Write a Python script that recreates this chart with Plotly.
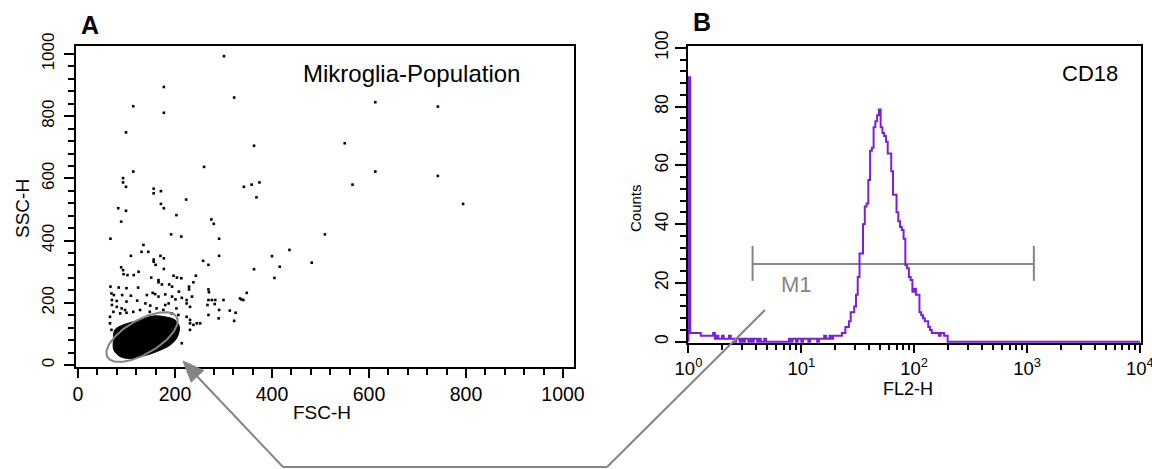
import numpy as np
import plotly.graph_objects as go

W, H = 1152, 469

# ---------------- Panel A: FSC-H / SSC-H dot plot ----------------
fsc = [301, 177, 322, 114, 177, 99, 363, 260, 114, 93, 93, 99, 156, 156, 171, 223, 342, 358, 374, 368,
       83, 99, 171, 177, 203, 89, 275, 280, 192, 213, 291, 67,
       613, 742, 550, 613, 742, 566, 794, 509, 436, 482, 416, 400, 363, 405, 348, 337,
       135, 131, 145, 109, 170, 156, 156, 177, 291, 258, 269, 160, 89, 93, 94, 102, 115, 125, 177, 151,
       166, 166, 197, 204, 213, 243, 238, 173, 188, 194, 67, 84, 100, 124, 229, 229, 269, 270, 208, 154,
       159, 180, 69, 74, 91, 109, 142, 166, 194, 201, 214, 224, 224, 235, 269, 276, 283, 300, 334, 341,
       70, 80, 100, 122, 139, 149, 180, 187, 203, 231, 267, 282, 313, 325, 291, 269, 290, 322, 70, 80,
       90, 97, 73, 87, 100, 114, 128, 148, 162, 176, 193, 207, 224, 231, 231, 238, 245, 252, 214, 231,
       66, 66, 69]
ssc = [993, 894, 860, 832, 811, 748, 705, 637, 622, 601, 587, 573, 567, 552, 559, 532, 573, 580, 587, 539,
       504, 496, 518, 504, 482, 461, 468, 454, 420, 413, 406, 406,
       845, 831, 713, 622, 608, 580, 518, 420, 370, 329, 316, 350, 308, 280, 232, 211,
       386, 364, 364, 351, 351, 339, 332, 343, 351, 335, 322, 322, 314, 305, 292, 289, 289, 300, 309, 281,
       273, 266, 287, 281, 279, 287, 266, 259, 259, 252, 252, 249, 247, 249, 252, 243, 243, 234, 236, 232,
       228, 227, 230, 225, 225, 223, 225, 220, 220, 211, 216, 209, 198, 220, 209, 209, 209, 209, 214, 209,
       209, 206, 204, 207, 198, 191, 193, 198, 182, 187, 193, 196, 175, 168, 177, 161, 150, 142, 193, 187,
       182, 177, 171, 166, 168, 171, 177, 171, 182, 177, 166, 161, 155, 145, 134, 129, 134, 134, 70, 113,
       155, 134, 113]

# dense (saturated) core of the population, outline
core_fsc = [73, 76, 93, 114, 135, 159, 179, 200, 209, 205, 190, 162, 135, 107, 87, 74]
core_ssc = [80, 113, 129, 139, 150, 158, 155, 145, 123, 91, 64, 43, 29, 21, 27, 48]

# elliptic gate: centre (FSC, SSC), semi-axes in screen pixels, tilt in degrees
gate_center = [132, 90]
gate_axes_px = [40, 17]
gate_tilt = 30

# ---------------- Panel B: FL2-H histogram (CD18) ----------------
counts = ([90] +
          [3, 3, 3, 3, 3, 3, 2, 2, 2, 2] +
          [2, 2, 2, 3] +
          [1, 2, 1, 1, 2, 1, 1, 1, 2, 1] +
          [1, 0, 1, 1, 0, 1, 0, 1, 1, 0, 1, 0, 1, 1, 0, 1, 0, 0, 1, 0] +
          [0, 0, 0, 0, 0, 0, 0, 0, 0, 0, 0, 0] +
          [1, 0, 1, 1, 0, 1, 1, 0, 1, 1, 1, 0, 1, 1, 1, 1, 0, 1] +
          [1, 1, 2, 1, 1, 2, 1, 2, 2, 2, 2, 2] +
          [3, 3, 5, 5, 7, 10, 10, 12, 16, 22, 30, 30, 40, 46, 47, 55, 65, 66, 73, 75, 77, 79] +
          [73, 71, 70, 68, 64, 64, 58, 50, 50, 44, 41, 39, 38, 35, 26, 25, 22, 21, 17, 18, 16, 16] +
          [10, 9, 8, 7, 7, 5, 4, 3, 3, 3, 3, 2, 3, 3, 2, 2])
counts = counts + [0] * (256 - len(counts))
channels_per_decade = 64

m1_range = [3.7, 1150]
m1_level = 26.4
m1_caps = [20.7, 32.6]

# x tick labels for log axis
decades = [1, 10, 100, 1000, 10000]
decade_text = ["10<sup>0</sup>", "10<sup>1</sup>", "10<sup>2</sup>", "10<sup>3</sup>", "10<sup>4</sup>"]

FONT = "Liberation Sans, Arial, sans-serif"
GREY = "#858585"
PURPLE = "#7a1fdc"


def pxx(x):
    return x / W


def pyy(y):
    return 1 - y / H


fig = go.Figure()

# ----- Panel A traces -----
xa_range = [-4.1, 1022.7]
ya_range = [-6.4, 1025.7]
xa_dom = [76 / W, 574 / W]
ya_dom = [1 - 367 / H, 1 - 46 / H]
sx = (574 - 76) / (xa_range[1] - xa_range[0])
sy = (367 - 46) / (ya_range[1] - ya_range[0])

fig.add_trace(go.Scatter(x=core_fsc + [core_fsc[0]], y=core_ssc + [core_ssc[0]], mode="lines",
                         fill="toself", fillcolor="black", line=dict(color="black", width=1, shape="spline"),
                         xaxis="x", yaxis="y", hoverinfo="skip"))
fig.add_trace(go.Scatter(x=fsc, y=ssc, mode="markers",
                         marker=dict(symbol="square", size=2.6, color="black", line=dict(width=0)),
                         xaxis="x", yaxis="y"))

t = np.linspace(0, 2 * np.pi, 120)
th = np.deg2rad(gate_tilt)
a_px, b_px = gate_axes_px
dxp = a_px * np.cos(t) * np.cos(th) - b_px * np.sin(t) * np.sin(th)
dyp = a_px * np.cos(t) * np.sin(th) + b_px * np.sin(t) * np.cos(th)
fig.add_trace(go.Scatter(x=gate_center[0] + dxp / sx, y=gate_center[1] + dyp / sy, mode="lines",
                         line=dict(color=GREY, width=2), xaxis="x", yaxis="y", hoverinfo="skip"))

# ----- Panel B traces -----
n = len(counts)
edges = [10 ** (c / channels_per_decade) for c in range(n + 1)]
hx = [edges[0]] + edges[:n] + [edges[n]]
hy = [0] + counts + [counts[-1]]

fig.add_trace(go.Scatter(x=m1_range, y=[m1_level, m1_level], mode="lines",
                         line=dict(color=GREY, width=2), xaxis="x2", yaxis="y2"))
for v in m1_range:
    fig.add_trace(go.Scatter(x=[v, v], y=m1_caps, mode="lines",
                             line=dict(color=GREY, width=2), xaxis="x2", yaxis="y2"))
fig.add_trace(go.Scatter(x=hx, y=hy, mode="lines", line=dict(color=PURPLE, width=2, shape="hv"),
                         xaxis="x2", yaxis="y2"))

axis_common = dict(showline=True, linecolor="black", linewidth=2, mirror=True, showgrid=False,
                   zeroline=False, ticks="outside", tickcolor="black", tickwidth=1.5, automargin=False)

fig.update_layout(
    width=W, height=H, margin=dict(l=0, r=0, t=0, b=0),
    paper_bgcolor="white", plot_bgcolor="white", showlegend=False, template="none",
    font=dict(family=FONT, color="black"),
    xaxis=dict(domain=xa_dom, range=xa_range, tickvals=[0, 200, 400, 600, 800, 1000], ticklen=9,
               tickfont=dict(size=19.5, family=FONT), anchor="y",
               minor=dict(dtick=40, tick0=0, ticks="outside", ticklen=6, tickcolor="black", tickwidth=1.5),
               **axis_common),
    yaxis=dict(domain=ya_dom, range=ya_range, tickvals=[0, 200, 400, 600, 800, 1000], ticklen=10,
               tickangle=-90, tickfont=dict(size=17, family=FONT), anchor="x", ticklabelstandoff=3,
               minor=dict(dtick=40, tick0=0, ticks="outside", ticklen=6, tickcolor="black", tickwidth=1.5),
               **axis_common),
    xaxis2=dict(domain=[688 / W, 1141 / W], type="log", range=[-0.004, 4.01], tickvals=decades,
                ticktext=decade_text, ticklen=8, tickfont=dict(size=18.5, family=FONT), anchor="y2",
                ticklabeloverflow="allow",
                minor=dict(tickvals=[m * d for d in [1, 10, 100, 1000] for m in range(2, 10)],
                           ticks="outside", ticklen=5, tickcolor="black", tickwidth=1.5),
                **axis_common),
    yaxis2=dict(domain=[1 - 343 / H, 1 - 46 / H], range=[-0.44, 100.6], tickvals=[0, 20, 40, 60, 80, 100],
                ticklen=11, tickangle=-90, tickfont=dict(size=17.5, family=FONT), anchor="x2",
                minor=dict(dtick=4, tick0=0, ticks="outside", ticklen=6, tickcolor="black", tickwidth=1.5),
                **axis_common),
)

ann = [
    dict(text="<b>A</b>", x=pxx(90), y=pyy(25), size=25, color="black", angle=0),
    dict(text="<b>B</b>", x=pxx(702), y=pyy(22), size=25, color="black", angle=0),
    dict(text="Mikroglia-Population", x=pxx(411), y=pyy(73), size=24, color="black", angle=0),
    dict(text="CD18", x=pxx(1090), y=pyy(73), size=22, color="black", angle=0),
    dict(text="SSC-H", x=pxx(22), y=pyy(209), size=19, color="black", angle=-90),
    dict(text="FSC-H", x=pxx(322), y=pyy(412), size=19, color="black", angle=0),
    dict(text="Counts", x=pxx(635), y=pyy(208), size=15, color="black", angle=-90),
    dict(text="FL2-H", x=pxx(908), y=pyy(389), size=18, color="black", angle=0),
    dict(text="M1", x=pxx(796), y=pyy(284), size=22, color=GREY, angle=0),
]
for a in ann:
    fig.add_annotation(text=a["text"], x=a["x"], y=a["y"], xref="paper", yref="paper",
                       xanchor="center", yanchor="middle", showarrow=False, textangle=a["angle"],
                       font=dict(size=a["size"], color=a["color"], family=FONT))

# connecting arrow between the gate and the histogram
line_style = dict(color=GREY, width=2)
fig.add_shape(type="line", xref="paper", yref="paper", x0=pxx(283), y0=pyy(467), x1=pxx(607), y1=pyy(467),
              line=line_style)
fig.add_shape(type="line", xref="paper", yref="paper", x0=pxx(283), y0=pyy(467), x1=pxx(193), y1=pyy(372),
              line=line_style)
fig.add_shape(type="line", xref="paper", yref="paper", x0=pxx(607), y0=pyy(467), x1=pxx(765), y1=pyy(310),
              line=line_style)
tip = np.array([183.0, 361.0])
d = np.array([100.0, 106.0])
d = d / np.linalg.norm(d)
nrm = np.array([-d[1], d[0]])
base = tip + 21 * d
c1 = base + 8.5 * nrm
c2 = base - 8.5 * nrm
path = "M {} {} L {} {} L {} {} Z".format(pxx(tip[0]), pyy(tip[1]), pxx(c1[0]), pyy(c1[1]),
                                          pxx(c2[0]), pyy(c2[1]))
fig.add_shape(type="path", xref="paper", yref="paper", path=path, fillcolor=GREY,
              line=dict(color=GREY, width=1))

fig.write_html("out.html")
